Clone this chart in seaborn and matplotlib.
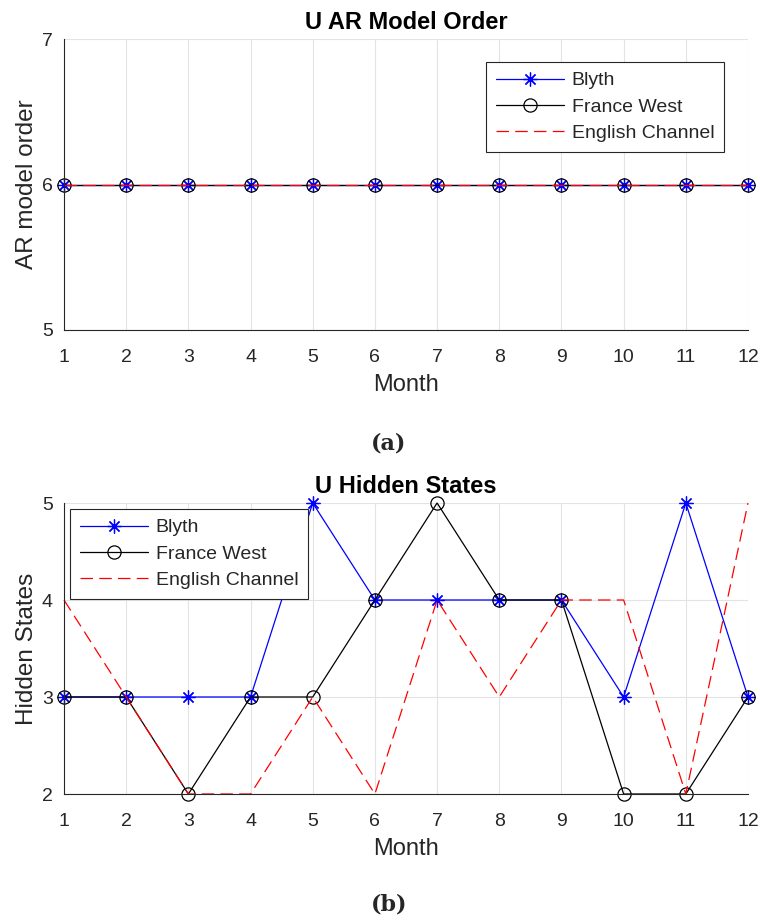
import numpy as np
import pandas as pd
import matplotlib
matplotlib.use("Agg")
import matplotlib.pyplot as plt
import seaborn as sns

months = list(range(1, 13))
series_names = ["Blyth", "France West", "English Channel"]

ar_blyth = [6, 6, 6, 6, 6, 6, 6, 6, 6, 6, 6, 6]
ar_france = [6, 6, 6, 6, 6, 6, 6, 6, 6, 6, 6, 6]
ar_channel = [6, 6, 6, 6, 6, 6, 6, 6, 6, 6, 6, 6]

hs_blyth = [3, 3, 3, 3, 5, 4, 4, 4, 4, 3, 5, 3]
hs_france = [3, 3, 2, 3, 3, 4, 5, 4, 4, 2, 2, 3]
hs_channel = [4, 3, 2, 2, 3, 2, 4, 3, 4, 4, 2, 5]

sns.set_style("white")
plt.rcParams["font.family"] = ["Liberation Sans", "DejaVu Sans"]

fig = plt.figure(figsize=(7.6, 9.21), dpi=100)
ax1 = fig.add_axes([64/760, 1-330/921, 684/760, 291/921])
ax2 = fig.add_axes([64/760, 1-794/921, 684/760, 291/921])

styles = [
    dict(color="blue", marker=(8, 2, 0), markersize=10, markeredgecolor="blue",
         markerfacecolor="none", markeredgewidth=0.9, linestyle="-", linewidth=0.9),
    dict(color="black", marker="o", markersize=9.5, markeredgecolor="black",
         markerfacecolor="none", markeredgewidth=0.9, linestyle="-", linewidth=0.9),
    dict(color="red", linestyle=(0, (10, 5)), linewidth=0.9),
]

def draw(ax, data, title, ylabel, yticks, legloc, legbbox):
    for name, vals, st in zip(series_names, data, styles):
        sns.lineplot(x=months, y=vals, ax=ax, label=name, clip_on=False, **st)
    ax.set_xlim(1, 12)
    ax.set_ylim(yticks[0], yticks[-1])
    ax.set_xticks(months)
    ax.set_yticks(yticks)
    ax.tick_params(axis="both", direction="in", length=5, width=0.8,
                   labelsize=14, colors="#262626")
    ax.tick_params(axis="x", pad=13.5)
    ax.tick_params(axis="y", pad=8)
    ax.grid(True, color="#e3e3e3", linewidth=0.8)
    ax.set_axisbelow(True)
    for s in ["top", "right"]:
        ax.spines[s].set_visible(False)
    for s in ["left", "bottom"]:
        ax.spines[s].set_color("#262626")
        ax.spines[s].set_linewidth(0.8)
    ax.set_title(title, fontsize=17, fontweight="bold", pad=7, color="black")
    ax.set_xlabel("Month", fontsize=17, color="#262626", labelpad=6)
    ax.set_ylabel(ylabel, fontsize=17.5, color="#262626", labelpad=3)
    leg = ax.legend(loc=legloc, bbox_to_anchor=legbbox, fontsize=14,
                    frameon=True, fancybox=False, framealpha=1,
                    edgecolor="#262626", handlelength=3.5, borderpad=0.5,
                    labelspacing=0.45, handletextpad=0.4, borderaxespad=0)
    leg.get_frame().set_linewidth(0.8)

draw(ax1, [ar_blyth, ar_france, ar_channel], "U AR Model Order",
     "AR model order", [5, 6, 7], "upper right",
     ((724-64)/684, (330-62)/291))
draw(ax2, [hs_blyth, hs_france, hs_channel], "U Hidden States",
     "Hidden States", [2, 3, 4, 5], "upper left",
     (6/684, (794-509)/291))

fig.text(389/760, 1-443/921, "(a)", ha="center", va="center",
         fontsize=16, fontweight="bold", family=["DejaVu Serif"])
fig.text(389/760, 1-904/921, "(b)", ha="center", va="center",
         fontsize=16, fontweight="bold", family=["DejaVu Serif"])

fig.savefig("out.png", dpi=100)
